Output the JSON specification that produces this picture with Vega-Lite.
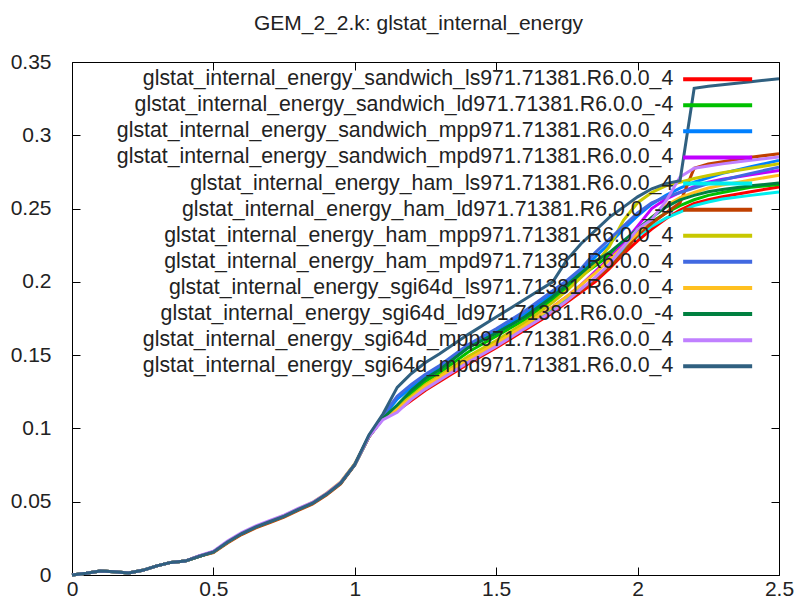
{
  "$schema": "https://vega.github.io/schema/vega-lite/v6.json",
  "width": 707,
  "height": 513,
  "autosize": {"type": "none"},
  "padding": {"left": 72, "top": 62, "right": 16, "bottom": 35},
  "background": "white",
  "title": {"text": "GEM_2_2.k: glstat_internal_energy", "font": "Liberation Sans", "fontSize": 21, "fontWeight": "normal", "color": "#222", "anchor": "middle", "offset": -4, "dx": -7, "baseline": "bottom"},
  "config": {"view": {"stroke": "#000", "strokeWidth": 1}, "font": "Liberation Sans"},
  "data": {"values": [
    {"x":0,"a":0,"b":0,"c":0,"d":0,"e":0,"f":0,"g":0,"h":0,"i":0,"j":0,"k":0,"l":0},
    {"x":0.05,"a":0.0012,"b":0.0012,"c":0.0012,"d":0.0012,"e":0.0012,"f":0.0012,"g":0.0012,"h":0.0012,"i":0.0012,"j":0.0012,"k":0.0012,"l":0.0012},
    {"x":0.1,"a":0.0027,"b":0.0027,"c":0.0027,"d":0.0027,"e":0.0027,"f":0.0027,"g":0.0027,"h":0.0027,"i":0.0027,"j":0.0027,"k":0.0027,"l":0.0027},
    {"x":0.15,"a":0.0022,"b":0.0022,"c":0.0022,"d":0.0022,"e":0.0022,"f":0.0022,"g":0.0022,"h":0.0022,"i":0.0022,"j":0.0022,"k":0.0022,"l":0.0022},
    {"x":0.2,"a":0.0014,"b":0.0014,"c":0.0014,"d":0.0014,"e":0.0014,"f":0.0014,"g":0.0014,"h":0.0014,"i":0.0014,"j":0.0014,"k":0.0014,"l":0.0014},
    {"x":0.25,"a":0.0032,"b":0.0032,"c":0.0032,"d":0.0032,"e":0.0032,"f":0.0032,"g":0.0032,"h":0.0032,"i":0.0032,"j":0.0032,"k":0.0032,"l":0.0032},
    {"x":0.3,"a":0.0062,"b":0.0062,"c":0.0062,"d":0.0062,"e":0.0062,"f":0.0062,"g":0.0062,"h":0.0062,"i":0.0062,"j":0.0062,"k":0.0062,"l":0.0062},
    {"x":0.35,"a":0.0086,"b":0.0086,"c":0.0086,"d":0.0086,"e":0.0086,"f":0.0086,"g":0.0086,"h":0.0086,"i":0.0086,"j":0.0086,"k":0.0086,"l":0.0086},
    {"x":0.4,"a":0.0095,"b":0.0095,"c":0.0095,"d":0.0095,"e":0.0095,"f":0.0095,"g":0.0095,"h":0.0095,"i":0.0095,"j":0.0095,"k":0.0095,"l":0.0095},
    {"x":0.45,"a":0.0128,"b":0.0128,"c":0.0128,"d":0.0128,"e":0.0128,"f":0.0128,"g":0.0128,"h":0.0128,"i":0.0128,"j":0.0128,"k":0.0132,"l":0.0128},
    {"x":0.5,"a":0.0157,"b":0.0157,"c":0.0157,"d":0.0157,"e":0.0157,"f":0.0152,"g":0.0157,"h":0.0157,"i":0.0157,"j":0.0157,"k":0.0163,"l":0.0157},
    {"x":0.55,"a":0.0225,"b":0.0225,"c":0.0225,"d":0.0225,"e":0.0225,"f":0.0218,"g":0.0225,"h":0.0225,"i":0.0225,"j":0.0225,"k":0.0232,"l":0.0225},
    {"x":0.6,"a":0.0283,"b":0.0283,"c":0.0283,"d":0.0283,"e":0.0283,"f":0.0276,"g":0.0283,"h":0.0283,"i":0.0285,"j":0.0283,"k":0.029,"l":0.0283},
    {"x":0.65,"a":0.0328,"b":0.0328,"c":0.0328,"d":0.0328,"e":0.0328,"f":0.0321,"g":0.0328,"h":0.0328,"i":0.033,"j":0.0328,"k":0.0335,"l":0.0328},
    {"x":0.7,"a":0.0365,"b":0.0365,"c":0.0365,"d":0.0365,"e":0.0365,"f":0.0358,"g":0.0365,"h":0.0365,"i":0.0368,"j":0.0365,"k":0.0372,"l":0.0365},
    {"x":0.75,"a":0.0402,"b":0.0402,"c":0.0402,"d":0.0402,"e":0.0402,"f":0.0395,"g":0.0402,"h":0.0402,"i":0.0406,"j":0.0402,"k":0.0408,"l":0.0402},
    {"x":0.8,"a":0.0448,"b":0.0448,"c":0.0448,"d":0.0448,"e":0.0448,"f":0.0441,"g":0.0448,"h":0.0448,"i":0.0452,"j":0.0448,"k":0.0454,"l":0.0448},
    {"x":0.85,"a":0.049,"b":0.049,"c":0.049,"d":0.049,"e":0.049,"f":0.0483,"g":0.049,"h":0.049,"i":0.0495,"j":0.049,"k":0.0495,"l":0.049},
    {"x":0.9,"a":0.0552,"b":0.0552,"c":0.0552,"d":0.0552,"e":0.0552,"f":0.0545,"g":0.0552,"h":0.0552,"i":0.0558,"j":0.0552,"k":0.0556,"l":0.0552},
    {"x":0.95,"a":0.0628,"b":0.0628,"c":0.0628,"d":0.0628,"e":0.0628,"f":0.0622,"g":0.0628,"h":0.0628,"i":0.0635,"j":0.0628,"k":0.0632,"l":0.0628},
    {"x":1.0,"a":0.0755,"b":0.0755,"c":0.0755,"d":0.0755,"e":0.0755,"f":0.075,"g":0.0755,"h":0.0755,"i":0.076,"j":0.0755,"k":0.0755,"l":0.0755},
    {"x":1.05,"a":0.0945,"b":0.0945,"c":0.0948,"d":0.0945,"e":0.0945,"f":0.0942,"g":0.0945,"h":0.095,"i":0.0945,"j":0.0945,"k":0.0943,"l":0.0955},
    {"x":1.1,"a":0.107,"b":0.107,"c":0.108,"d":0.107,"e":0.107,"f":0.107,"g":0.107,"h":0.109,"i":0.107,"j":0.107,"k":0.106,"l":0.11},
    {"x":1.15,"a":0.112,"b":0.115,"c":0.12,"d":0.114,"e":0.113,"f":0.113,"g":0.115,"h":0.122,"i":0.113,"j":0.116,"k":0.111,"l":0.128},
    {"x":1.2,"a":0.119,"b":0.124,"c":0.128,"d":0.121,"e":0.12,"f":0.12,"g":0.122,"h":0.13,"i":0.121,"j":0.126,"k":0.12,"l":0.1375},
    {"x":1.25,"a":0.126,"b":0.132,"c":0.135,"d":0.128,"e":0.127,"f":0.127,"g":0.13,"h":0.137,"i":0.129,"j":0.134,"k":0.127,"l":0.145},
    {"x":1.3,"a":0.132,"b":0.138,"c":0.141,"d":0.134,"e":0.133,"f":0.133,"g":0.136,"h":0.143,"i":0.135,"j":0.14,"k":0.133,"l":0.151},
    {"x":1.4,"a":0.144,"b":0.152,"c":0.155,"d":0.147,"e":0.146,"f":0.145,"g":0.149,"h":0.157,"i":0.147,"j":0.155,"k":0.145,"l":0.164},
    {"x":1.5,"a":0.155,"b":0.163,"c":0.166,"d":0.158,"e":0.157,"f":0.156,"g":0.16,"h":0.168,"i":0.158,"j":0.165,"k":0.156,"l":0.176},
    {"x":1.6,"a":0.167,"b":0.174,"c":0.178,"d":0.17,"e":0.169,"f":0.168,"g":0.172,"h":0.18,"i":0.17,"j":0.176,"k":0.168,"l":0.188},
    {"x":1.7,"a":0.179,"b":0.188,"c":0.192,"d":0.183,"e":0.181,"f":0.18,"g":0.186,"h":0.194,"i":0.183,"j":0.19,"k":0.18,"l":0.2},
    {"x":1.75,"a":0.186,"b":0.196,"c":0.199,"d":0.19,"e":0.188,"f":0.187,"g":0.194,"h":0.201,"i":0.19,"j":0.198,"k":0.187,"l":0.215},
    {"x":1.8,"a":0.193,"b":0.204,"c":0.207,"d":0.198,"e":0.195,"f":0.194,"g":0.203,"h":0.209,"i":0.198,"j":0.206,"k":0.195,"l":0.226},
    {"x":1.85,"a":0.2,"b":0.211,"c":0.217,"d":0.207,"e":0.202,"f":0.202,"g":0.212,"h":0.22,"i":0.206,"j":0.214,"k":0.203,"l":0.235},
    {"x":1.9,"a":0.209,"b":0.218,"c":0.226,"d":0.216,"e":0.211,"f":0.21,"g":0.224,"h":0.229,"i":0.215,"j":0.22,"k":0.212,"l":0.244},
    {"x":1.95,"a":0.219,"b":0.226,"c":0.236,"d":0.226,"e":0.222,"f":0.22,"g":0.242,"h":0.238,"i":0.224,"j":0.228,"k":0.224,"l":0.251},
    {"x":2.0,"a":0.228,"b":0.234,"c":0.245,"d":0.238,"e":0.231,"f":0.232,"g":0.254,"h":0.247,"i":0.233,"j":0.236,"k":0.236,"l":0.258},
    {"x":2.05,"a":0.236,"b":0.241,"c":0.253,"d":0.25,"e":0.238,"f":0.24,"g":0.261,"h":0.254,"i":0.244,"j":0.244,"k":0.2425,"l":0.2635},
    {"x":2.1,"a":0.243,"b":0.247,"c":0.259,"d":0.2565,"e":0.2435,"f":0.247,"g":0.2655,"h":0.258,"i":0.252,"j":0.251,"k":0.255,"l":0.267},
    {"x":2.15,"a":0.249,"b":0.252,"c":0.264,"d":0.261,"e":0.2475,"f":0.254,"g":0.268,"h":0.261,"i":0.2575,"j":0.256,"k":0.2715,"l":0.269},
    {"x":2.2,"a":0.2535,"b":0.256,"c":0.268,"d":0.265,"e":0.252,"f":0.2775,"g":0.2705,"h":0.264,"i":0.261,"j":0.259,"k":0.2775,"l":0.332},
    {"x":2.25,"a":0.256,"b":0.259,"c":0.271,"d":0.268,"e":0.2545,"f":0.2805,"g":0.2725,"h":0.267,"i":0.264,"j":0.2615,"k":0.279,"l":0.3335},
    {"x":2.3,"a":0.258,"b":0.261,"c":0.274,"d":0.27,"e":0.2565,"f":0.282,"g":0.2745,"h":0.2695,"i":0.266,"j":0.263,"k":0.2805,"l":0.3345},
    {"x":2.4,"a":0.2615,"b":0.2645,"c":0.2785,"d":0.273,"e":0.259,"f":0.285,"g":0.2775,"h":0.274,"i":0.2695,"j":0.2655,"k":0.283,"l":0.3365},
    {"x":2.5,"a":0.2647,"b":0.2665,"c":0.2829,"d":0.276,"e":0.2613,"f":0.2874,"g":0.2806,"h":0.2783,"i":0.2727,"j":0.2675,"k":0.2852,"l":0.3386}
  ]},
  "transform": [
    {"fold": ["a","b","c","d","e","f","g","h","i","j","k","l"], "as": ["key","y"]},
    {"lookup": "key", "from": {"data": {"values": [
      {"key":"a","name":"glstat_internal_energy_sandwich_ls971.71381.R6.0.0_4"},
      {"key":"b","name":"glstat_internal_energy_sandwich_ld971.71381.R6.0.0_-4"},
      {"key":"c","name":"glstat_internal_energy_sandwich_mpp971.71381.R6.0.0_4"},
      {"key":"d","name":"glstat_internal_energy_sandwich_mpd971.71381.R6.0.0_4"},
      {"key":"e","name":"glstat_internal_energy_ham_ls971.71381.R6.0.0_4"},
      {"key":"f","name":"glstat_internal_energy_ham_ld971.71381.R6.0.0_-4"},
      {"key":"g","name":"glstat_internal_energy_ham_mpp971.71381.R6.0.0_4"},
      {"key":"h","name":"glstat_internal_energy_ham_mpd971.71381.R6.0.0_4"},
      {"key":"i","name":"glstat_internal_energy_sgi64d_ls971.71381.R6.0.0_4"},
      {"key":"j","name":"glstat_internal_energy_sgi64d_ld971.71381.R6.0.0_-4"},
      {"key":"k","name":"glstat_internal_energy_sgi64d_mpp971.71381.R6.0.0_4"},
      {"key":"l","name":"glstat_internal_energy_sgi64d_mpd971.71381.R6.0.0_4"}
    ]}, "key": "key", "fields": ["name"]}}
  ],
  "layer": [
    {
      "mark": {"type": "line", "opacity": 0},
      "encoding": {
        "x": {"field": "x", "type": "quantitative", "scale": {"domain": [0, 2.5], "nice": false}, "axis": {"orient": "top", "values": [0, 0.5, 1, 1.5, 2, 2.5], "labels": false, "domain": false, "grid": false, "tickSize": -8, "tickColor": "#000", "title": null}},
        "y": {"field": "y", "type": "quantitative", "scale": {"domain": [0, 0.35], "nice": false}, "axis": {"orient": "right", "values": [0, 0.05, 0.1, 0.15, 0.2, 0.25, 0.3, 0.35], "labels": false, "domain": false, "grid": false, "tickSize": -8, "tickColor": "#000", "title": null}},
        "detail": {"field": "key"}
      }
    },
    {
      "mark": {"type": "line", "strokeWidth": 3},
      "encoding": {
        "x": {"field": "x", "type": "quantitative", "scale": {"domain": [0, 2.5], "nice": false}, "axis": {"orient": "bottom", "values": [0, 0.5, 1, 1.5, 2, 2.5], "format": "~g", "domain": false, "grid": false, "tickSize": -8, "tickColor": "#000", "labelFontSize": 21, "labelFont": "Liberation Sans", "labelColor": "#222", "labelPadding": 11, "labelFlush": false, "labelOverlap": false, "title": null}},
        "y": {"field": "y", "type": "quantitative", "scale": {"domain": [0, 0.35], "nice": false}, "axis": {"orient": "left", "values": [0, 0.05, 0.1, 0.15, 0.2, 0.25, 0.3, 0.35], "format": "~g", "domain": false, "grid": false, "tickSize": -8, "tickColor": "#000", "labelFontSize": 21, "labelFont": "Liberation Sans", "labelColor": "#222", "labelPadding": 29, "labelFlush": false, "labelOverlap": false, "title": null}},
        "color": {
          "field": "name", "type": "nominal",
          "scale": {
            "domain": [
              "glstat_internal_energy_sandwich_ls971.71381.R6.0.0_4",
              "glstat_internal_energy_sandwich_ld971.71381.R6.0.0_-4",
              "glstat_internal_energy_sandwich_mpp971.71381.R6.0.0_4",
              "glstat_internal_energy_sandwich_mpd971.71381.R6.0.0_4",
              "glstat_internal_energy_ham_ls971.71381.R6.0.0_4",
              "glstat_internal_energy_ham_ld971.71381.R6.0.0_-4",
              "glstat_internal_energy_ham_mpp971.71381.R6.0.0_4",
              "glstat_internal_energy_ham_mpd971.71381.R6.0.0_4",
              "glstat_internal_energy_sgi64d_ls971.71381.R6.0.0_4",
              "glstat_internal_energy_sgi64d_ld971.71381.R6.0.0_-4",
              "glstat_internal_energy_sgi64d_mpp971.71381.R6.0.0_4",
              "glstat_internal_energy_sgi64d_mpd971.71381.R6.0.0_4"
            ],
            "range": ["#ff0000", "#00c000", "#0080ff", "#c000ff", "#00eeee", "#c04000", "#c8c800", "#4169e1", "#ffc020", "#008040", "#c080ff", "#306080"]
          },
          "legend": {
            "orient": "none", "legendX": 635, "legendY": 6.5, "title": null, "padding": 0,
            "symbolType": "M-5.75,0H5.75", "symbolSize": 144, "symbolStrokeWidth": 4,
            "labelAlign": "right", "labelOffset": -55, "labelFontSize": 21.3, "labelFont": "Liberation Sans", "labelColor": "#222", "labelLimit": 800,
            "rowPadding": 4.1
          }
        }
      }
    }
  ],
  "resolve": {"axis": {"x": "independent", "y": "independent"}}
}
